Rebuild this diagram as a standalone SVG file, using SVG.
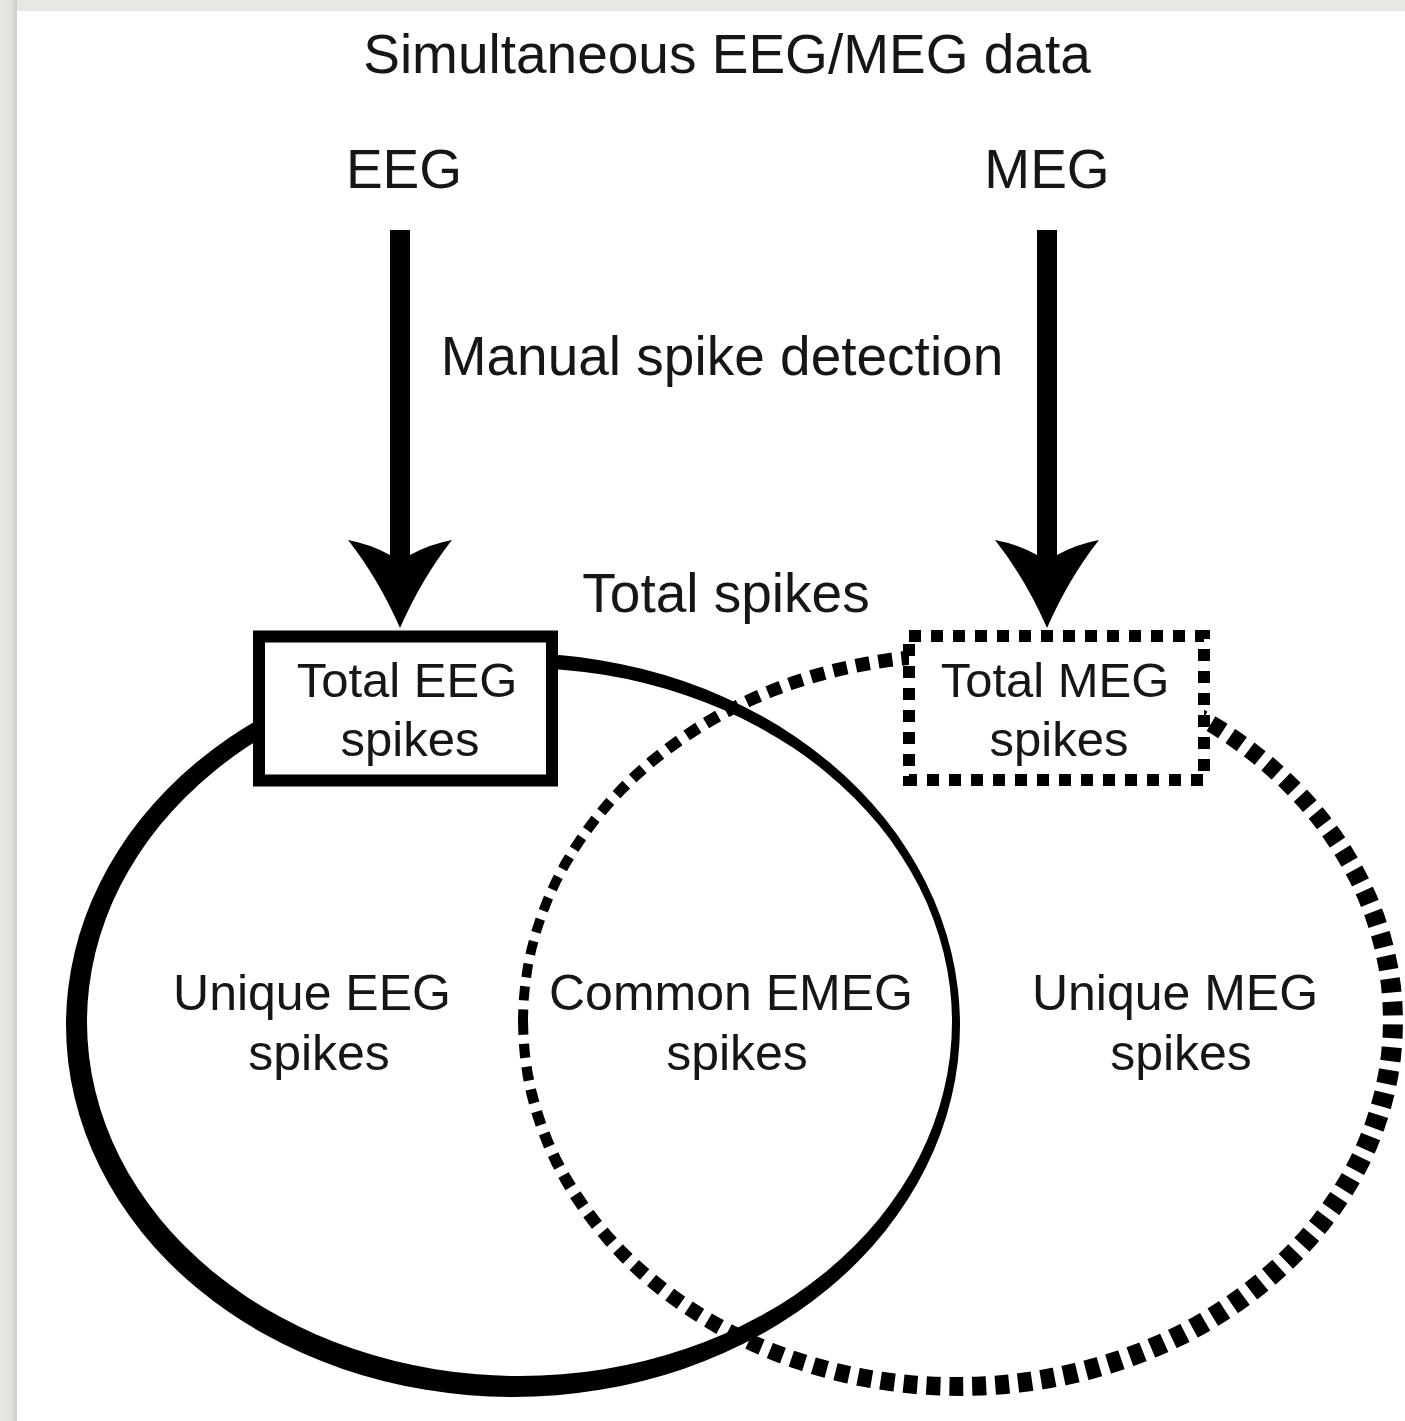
<svg xmlns="http://www.w3.org/2000/svg" xmlns:xlink="http://www.w3.org/1999/xlink" width="1405" height="1421" viewBox="0 0 1405 1421">
  <style>
    text { font-family: "Liberation Sans", Arial, sans-serif; fill: #161616; text-anchor: middle; }
    .big { font-size: 55px; }
    .mid { font-size: 50px; }
    .box { font-size: 49px; }
    .solidbox { fill: #fff; stroke: #000; stroke-width: 12; }
    .dashbox { fill: #fff; stroke: #000; stroke-width: 12; stroke-dasharray: 12 10; }
  </style>
  <defs>
    <linearGradient id="leftEdge" x1="0" y1="0" x2="1" y2="0">
      <stop offset="0" stop-color="#e9e7e3"/>
      <stop offset="0.7" stop-color="#e2e0dc"/>
      <stop offset="1" stop-color="#cfcdc9"/>
    </linearGradient>
    <linearGradient id="topEdge" x1="0" y1="0" x2="0" y2="1">
      <stop offset="0" stop-color="#e9e7e3"/>
      <stop offset="0.7" stop-color="#e2e0dc"/>
      <stop offset="1" stop-color="#d3d1cd"/>
    </linearGradient>
    <path id="arrow" d="M -10,230 H 10 V 555 Q 30,544 52,540 Q 22,578 0,628 Q -22,578 -52,540 Q -30,544 -10,555 Z" fill="#000"/>
    <clipPath id="megCrescent">
      <path clip-rule="evenodd" d="M 518,1022 a 442.5,374 0 1,0 885,0 a 442.5,374 0 1,0 -885,0 Z M 528,1020 a 427.5,357 0 1,0 855,0 a 427.5,357 0 1,0 -855,0 Z"/>
    </clipPath>
  </defs>

  <!-- page background -->
  <rect x="0" y="0" width="1405" height="1421" fill="url(#topEdge)"/>
  <rect x="0" y="0" width="17" height="1421" fill="url(#leftEdge)"/>
  <rect x="17" y="11" width="1388" height="1410" fill="#fff"/>

  <!-- title -->
  <g id="title">
    <text class="big" x="727" y="73">Simultaneous EEG/MEG data</text>
  </g>
  <g id="eeg-label">
    <text class="big" x="404" y="188">EEG</text>
  </g>
  <g id="meg-label">
    <text class="big" x="1047" y="188">MEG</text>
  </g>

  <!-- EEG set (solid, variable-width ellipse) -->
  <g id="eeg-set">
    <path fill="#000" fill-rule="evenodd" d="M 66,1025 a 447,372 0 1,0 894,0 a 447,372 0 1,0 -894,0 Z M 87,1022 a 432.5,354 0 1,0 865,0 a 432.5,354 0 1,0 -865,0 Z"/>
  </g>

  <!-- MEG set (dashed, variable-width ellipse) -->
  <g id="meg-set">
    <g clip-path="url(#megCrescent)">
      <path fill="none" stroke="#000" stroke-width="34" stroke-dasharray="14 9" d="M 523,1021 a 435,365.5 0 1,0 870,0 a 435,365.5 0 1,0 -870,0 Z"/>
    </g>
  </g>

  <!-- connectors -->
  <g id="connectors">
    <use xlink:href="#arrow" href="#arrow" x="400" y="0"/>
    <use xlink:href="#arrow" href="#arrow" x="1047" y="0"/>
  </g>

  <g id="detection-label">
    <text class="big" x="722" y="375">Manual spike detection</text>
  </g>
  <g id="total-label">
    <text class="big" x="726" y="612">Total spikes</text>
  </g>

  <g id="total-eeg">
    <rect class="solidbox" x="259" y="636.5" width="293" height="144"/>
    <text class="box" x="407" y="697">Total EEG</text>
    <text class="box" x="410" y="756">spikes</text>
  </g>

  <g id="total-meg">
    <rect class="dashbox" x="909" y="636" width="295" height="144"/>
    <text class="box" x="1055" y="697">Total MEG</text>
    <text class="box" x="1059" y="756">spikes</text>
  </g>

  <g id="unique-eeg">
    <text class="mid" x="312" y="1010">Unique EEG</text>
    <text class="mid" x="319" y="1070">spikes</text>
  </g>
  <g id="common-emeg">
    <text class="mid" x="731" y="1010">Common EMEG</text>
    <text class="mid" x="737" y="1070">spikes</text>
  </g>
  <g id="unique-meg">
    <text class="mid" x="1175" y="1010">Unique MEG</text>
    <text class="mid" x="1181" y="1070">spikes</text>
  </g>
</svg>
